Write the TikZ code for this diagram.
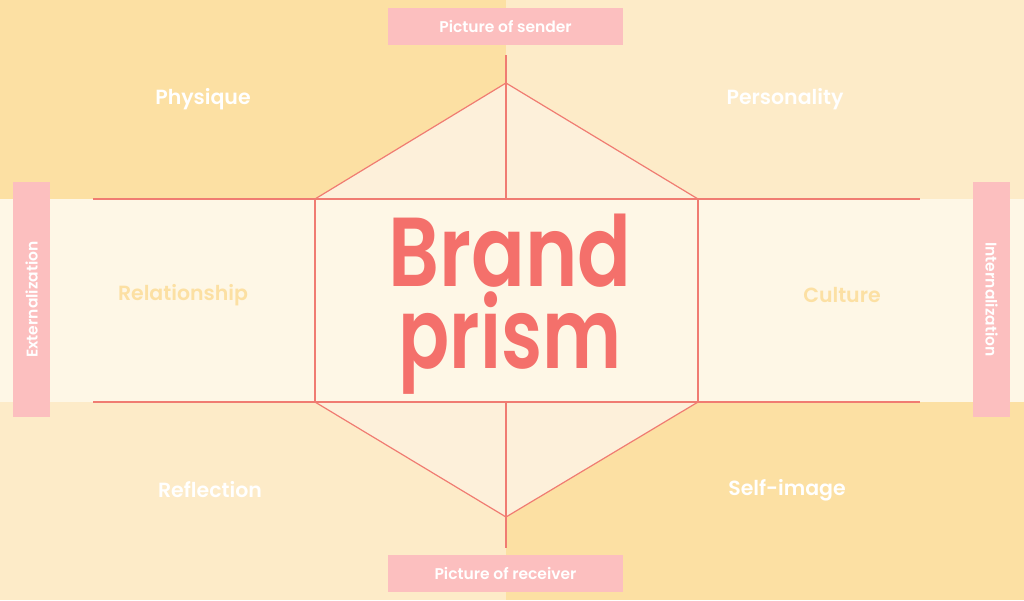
\documentclass[tikz,border=0pt]{standalone}
\usepackage{fontspec}
\setmainfont{Poppins}
\newfontfamily\labelfont{Poppins SemiBold}
\usetikzlibrary{positioning}
\definecolor{quadA}{HTML}{FCE0A3}
\definecolor{quadB}{HTML}{FDEBC8}
\definecolor{band}{HTML}{FEF7E6}
\definecolor{facet}{HTML}{FDF0DA}
\definecolor{tag}{HTML}{FCBFBF}
\definecolor{prismline}{HTML}{F07C72}
\definecolor{prismtext}{HTML}{F4706B}
\tikzset{
	% labels on the corners
	cornerlabel/.style={
		text=white,
		font=\labelfont\fontsize{20.5}{20.5}\selectfont
	}, %
	% labels in the band
	bandlabel/.style={
		text=quadA,
		font=\labelfont\fontsize{20.5}{20.5}\selectfont
	}, %
	% pink tags
	tagbox/.style={
		fill=tag,
		text=white,
		inner sep=0pt,
		minimum width=235,
		minimum height=37,
		font=\labelfont\fontsize{15.5}{15.5}\selectfont
	}, %
	% big title
	title/.style={
		anchor=base,
		align=center,
		inner sep=0pt,
		text=prismtext,
		font=\labelfont\fontsize{98}{82}\selectfont
	}, %
	prism/.style={
		draw=prismline,
		line width=1.2pt
	} %
}

\begin{document}
\begin{tikzpicture}[x=1pt,y=-1pt]
	% fondo
	\useasboundingbox (0,0) rectangle (1024,600);
	\fill[quadA] (0,0) rectangle (506,199);
	\fill[quadB] (506,0) rectangle (1024,199);
	\fill[quadB] (0,402) rectangle (506,600);
	\fill[quadA] (506,402) rectangle (1024,600);
	\fill[band] (0,199) rectangle (1024,402);
	
	% hexagono
	\coordinate (T) at (506,83);
	\coordinate (B) at (506,517);
	\coordinate (TL) at (315,199);
	\coordinate (TR) at (698,199);
	\coordinate (BL) at (315,402);
	\coordinate (BR) at (698,402);
	\coordinate (TM) at (506,199);
	\coordinate (BM) at (506,402);
	\fill[facet] (TL)--(T)--(TR)--cycle;
	\fill[facet] (BL)--(B)--(BR)--cycle;
	
	% lineas
	\draw[prism] (93,199)--(920,199);
	\draw[prism] (93,402)--(920,402);
	\draw[prism] (TL)--(BL);
	\draw[prism] (TR)--(BR);
	\draw[prism] (TL)--(T)--(TR);
	\draw[prism] (BL)--(B)--(BR);
	\draw[prism] (506,55)--(T)--(TM);
	\draw[prism] (BM)--(B)--(506,548);
	
	% etiquetas
	\node[tagbox] (sender) at (505.5,26.5) {Picture of sender};
	\node[tagbox] (receiver) at (505.5,573.5) {Picture of receiver};
	\node[tagbox, rotate=90] (ext) at (31.5,299.5) {Externalization};
	\node[tagbox, rotate=-90] (int) at (991.5,299.5) {Internalization};
	
	\node[cornerlabel] (physique) at (203,99) {Physique};
	\node[cornerlabel] (personality) at (785,99) {Personality};
	\node[bandlabel] (relationship) at (183,295) {Relationship};
	\node[bandlabel] (culture) at (842,295) {Culture};
	\node[cornerlabel] (reflection) at (210,490) {Reflection};
	\node[cornerlabel] (selfimage) at (787,490) {Self-image};
	
	% titulo
	\node[title] (brand) at (510,368) {\scalebox{0.81}[1]{Brand}\\\scalebox{0.77}[1]{prism}};
\end{tikzpicture}
\end{document}
